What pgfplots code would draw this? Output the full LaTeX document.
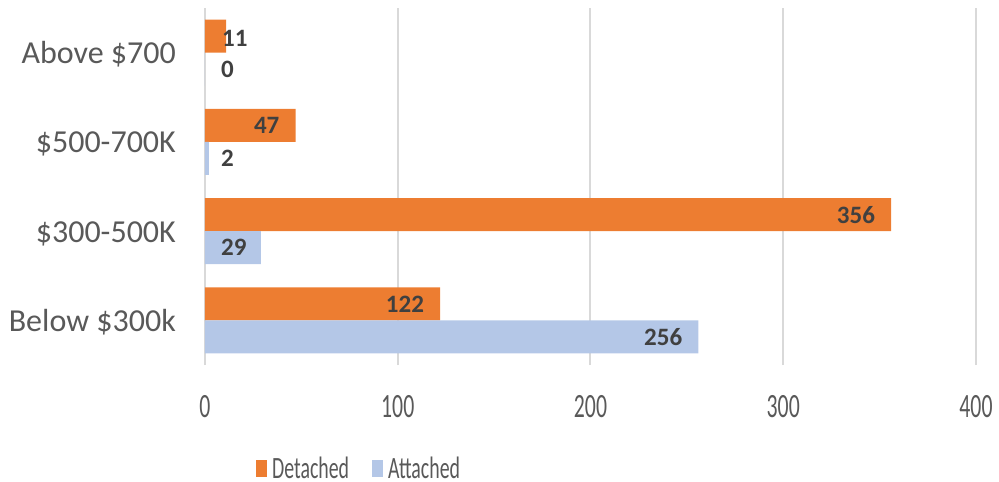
\documentclass[border=0pt]{standalone}
\usepackage{fontspec}
\setmainfont{Carlito}
\usepackage{graphicx}
\usepackage{pgfplots}
\pgfplotsset{compat=1.18}
\definecolor{det}{HTML}{ED7D31}
\definecolor{att}{HTML}{B4C7E7}
\definecolor{gridc}{HTML}{D9D9D9}
\definecolor{txt}{HTML}{595959}
\definecolor{lbl}{HTML}{404040}
\newcommand{\sq}[1]{\scalebox{0.64}[1]{#1}}
\begin{document}
\begin{tikzpicture}
\begin{axis}[
  scale only axis, width=771pt, height=357pt,
  xmin=0, xmax=400, ymin=-0.5, ymax=3.5,
  xbar, bar width=0.37,
  axis line style={draw=none},
  xmajorgrids, grid style={gridc, line width=2pt},
  xtick={0,100,200,300,400},
  xticklabels={\sq{0},\sq{100},\sq{200},\sq{300},\sq{400}},
  ytick={0,1,2,3},
  yticklabels={Below \$300k,\$300-500K,\$500-700K,Above \$700},
  major tick length=0pt,
  xticklabel style={font=\fontsize{34}{34}\selectfont, text=txt, anchor=base, inner sep=0pt, yshift=-52pt},
  yticklabel style={font=\fontsize{32}{32}\selectfont, text=txt, anchor=base east, inner sep=0pt, xshift=-29pt, yshift=-11pt},
  legend style={at={(axis description cs:0.0661,-0.291)}, anchor=west, draw=none, fill=none, inner sep=0pt,
    legend columns=2, font=\fontsize{31}{31}\selectfont, text=txt, nodes={inner sep=0pt},
    /tikz/every odd column/.append style={column sep=5pt},
    /tikz/every even column/.append style={column sep=23pt}},
  legend image code/.code={\fill[#1] (0pt,-8.5pt) rectangle (11pt,8.5pt);},
  legend cell align=left,
  clip=false,
]
\coordinate (O) at (rel axis cs:0,0);
\addplot[fill=det, draw=none, bar shift=0.185] coordinates {(122,0) (356,1) (47,2) (11,3)};
\addlegendentry{\sq{Detached}}
\addplot[fill=att, draw=none, bar shift=-0.185] coordinates {(256,0) (29,1) (2,2) (0,3)};
\addlegendentry{\sq{Attached}}
% labels inside end
\addplot[forget plot, draw=none, fill=none, bar shift=0.185, nodes near coords, point meta=explicit symbolic,
  every node near coord/.append style={anchor=east, xshift=-16pt, inner sep=0pt, font=\fontsize{25}{25}\bfseries\selectfont, text=lbl}]
  coordinates {(122,0)[122] (356,1)[356] (47,2)[47]};
\addplot[forget plot, draw=none, fill=none, bar shift=-0.185, nodes near coords, point meta=explicit symbolic,
  every node near coord/.append style={anchor=east, xshift=-16pt, inner sep=0pt, font=\fontsize{25}{25}\bfseries\selectfont, text=lbl}]
  coordinates {(256,0)[256]};
% labels near base
\addplot[forget plot, draw=none, fill=none, bar shift=0.185, nodes near coords, point meta=explicit symbolic,
  every node near coord/.append style={anchor=west, xshift=17pt, yshift=-2pt, inner sep=0pt, font=\fontsize{25}{25}\bfseries\selectfont, text=lbl}]
  coordinates {(0,3)[11]};
\addplot[forget plot, draw=none, fill=none, bar shift=-0.185, nodes near coords, point meta=explicit symbolic,
  every node near coord/.append style={anchor=west, xshift=16pt, inner sep=0pt, font=\fontsize{25}{25}\bfseries\selectfont, text=lbl}]
  coordinates {(0,1)[29] (0,2)[2] (0,3)[0]};
\end{axis}
\pgfresetboundingbox
\path[use as bounding box] (O) ++(-205pt,-117pt) rectangle ++(999pt,482pt);
\end{tikzpicture}
\end{document}
